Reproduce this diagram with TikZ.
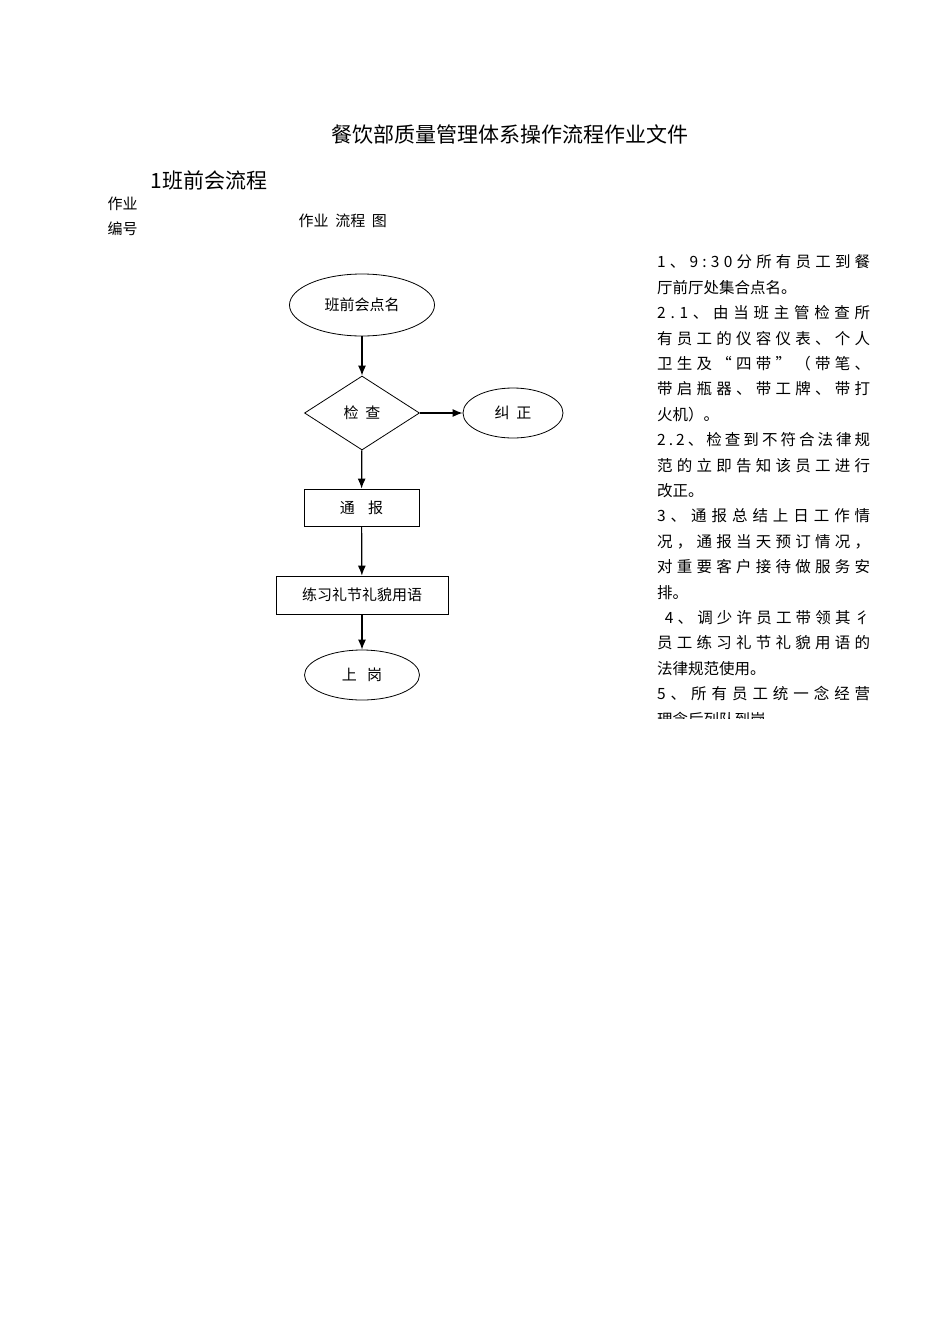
\documentclass[tikz,border=0pt]{standalone}
\usepackage{fontspec}
\setmainfont{Noto Sans CJK SC}
\usetikzlibrary{shapes.geometric,arrows.meta}
\def\spreadln#1{\hbox to 213pt{\spreadA#1\relax}}
\def\spreadA#1{\ifx#1\relax\hfilneg\else#1\hfil\expandafter\spreadA\fi}
\begin{document}
\begin{tikzpicture}[x=1pt,y=-1pt,
  lbl/.style={font=\fontsize{15}{15}\selectfont,inner sep=0pt},
  body/.style={font=\fontsize{15.5}{15.5}\selectfont,anchor=west,inner sep=0pt},
  oval/.style={draw,ellipse,thick,inner sep=0pt},
  flowbox/.style={draw,thick,inner sep=0pt},
  arr/.style={semithick,line width=1.2pt,-{Latex[length=10pt,width=8pt]}}]
\useasboundingbox (0,0) rectangle (950,1344);
\node[font=\fontsize{21}{21}\selectfont] (title) at (510,135) {餐饮部质量管理体系操作流程作业文件};
\node[font=\fontsize{21}{21}\selectfont,anchor=west] (sec) at (147,180) {1班前会流程};
\node[font=\fontsize{15}{15}\selectfont,anchor=west] (zy1) at (104,204) {作业};
\node[font=\fontsize{15}{15}\selectfont,anchor=west] (zy2) at (104,229) {编号};
\node[font=\fontsize{15}{15}\selectfont,anchor=west] (hdr) at (295,221) {作业\ \ 流程\ \ 图};

\node[oval,minimum width=145,minimum height=62,lbl] (a) at (362,305) {班前会点名};
\node[draw,thick,diamond,aspect=1.55,minimum width=115,minimum height=74,inner sep=0pt,lbl] (b) at (362,413) {检\ \ 查};
\node[oval,minimum width=100,minimum height=50,lbl] (c) at (513,413) {纠\ \ 正};
\node[flowbox,minimum width=115,minimum height=37,lbl] (d) at (361.5,507.5) {通\ \ \ \ 报};
\node[flowbox,minimum width=172,minimum height=38,lbl] (e) at (362,595) {练习礼节礼貌用语};
\node[oval,minimum width=115,minimum height=50,lbl] (f) at (362,675) {上\ \ \ 岗};
\draw[arr] (a) -- (b);
\draw[arr] (b) -- (c);
\draw[arr] (b) -- (d);
\draw[arr] (d) -- (e);
\draw[arr] (e) -- (f);

\begin{scope}
\clip (640,240) rectangle (900,718);
\node[body] (r0) at (657,262+25.4*0) {\spreadln{1、9:30分所有员工到餐}};
\node[body] (r1) at (657,262+25.4*1) {厅前厅处集合点名。};
\node[body] (r2) at (657,262+25.4*2) {\spreadln{2.1、由当班主管检查所}};
\node[body] (r3) at (657,262+25.4*3) {\spreadln{有员工的仪容仪表、个人}};
\node[body] (r4) at (657,262+25.4*4) {\spreadln{卫生及“四带”（带笔、}};
\node[body] (r5) at (657,262+25.4*5) {\spreadln{带启瓶器、带工牌、带打}};
\node[body] (r6) at (657,262+25.4*6) {火机）。};
\node[body] (r7) at (657,262+25.4*7) {\spreadln{2.2、检查到不符合法律规}};
\node[body] (r8) at (657,262+25.4*8) {\spreadln{范的立即告知该员工进行}};
\node[body] (r9) at (657,262+25.4*9) {改正。};
\node[body] (r10) at (657,262+25.4*10) {\spreadln{3、通报总结上日工作情}};
\node[body] (r11) at (657,262+25.4*11) {\spreadln{况，通报当天预订情况，}};
\node[body] (r12) at (657,262+25.4*12) {\spreadln{对重要客户接待做服务安}};
\node[body] (r13) at (657,262+25.4*13) {排。};
\node[body] (r14) at (657,262+25.4*14) {\spreadln{\ 4、调少许员工带领其彳}};
\node[body] (r15) at (657,262+25.4*15) {\spreadln{员工练习礼节礼貌用语的}};
\node[body] (r16) at (657,262+25.4*16) {法律规范使用。};
\node[body] (r17) at (657,262+25.4*17) {\spreadln{5、所有员工统一念经营}};
\node[body] (r18) at (657,262+25.4*18) {理念后列队到岗};
\end{scope}
\end{tikzpicture}
\end{document}
